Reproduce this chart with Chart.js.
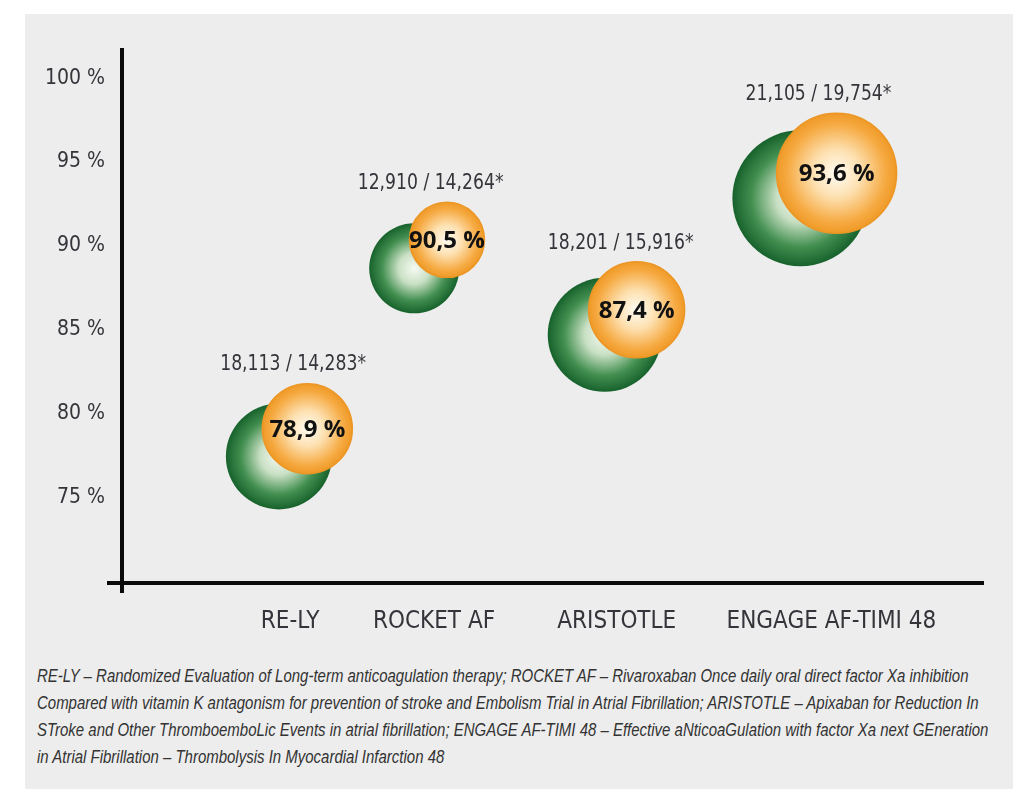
<!DOCTYPE html>
<html>
<head>
<meta charset="utf-8">
<script src="https://cdn.jsdelivr.net/npm/chart.js@4"></script>
<style>
    body { margin: 0; background: #ffffff; }
    #panel {
        position: absolute; left: 25px; top: 14px;
        width: 988px; height: 775px; background: #ededed;
    }
    #chart { position: absolute; left: 0; top: 0; }
    #note {
        position: absolute; left: 12px; top: 649px;
        font-family: "Liberation Sans", sans-serif;
        font-style: italic; font-size: 18px; line-height: 27px;
        color: #333; white-space: nowrap;
        transform: scaleX(0.832); transform-origin: 0 0;
    }
</style>
</head>
<body>
<div id="panel">
    <canvas id="chart" width="988" height="640"></canvas>
    <div id="note">
        RE-LY – Randomized Evaluation of Long-term anticoagulation therapy; ROCKET AF – Rivaroxaban Once daily oral direct factor Xa inhibition<br>
        Compared with vitamin K antagonism for prevention of stroke and Embolism Trial in Atrial Fibrillation; ARISTOTLE – Apixaban for Reduction In<br>
        STroke and Other ThromboemboLic Events in atrial fibrillation; ENGAGE AF-TIMI 48 – Effective aNticoaGulation with factor Xa next GEneration<br>
        in Atrial Fibrillation – Thrombolysis In Myocardial Infarction 48
    </div>
</div>
<script>
// trials and where their names sit on the x axis
const categories = ['RE-LY', 'ROCKET AF', 'ARISTOTLE', 'ENGAGE AF-TIMI 48'];
const categoryX = [19.5, 36.2, 57.4, 82.3];

// green bubbles (back)
const greenX = [18.2, 33.9, 56.0, 78.7];
const greenY = [77.45, 88.66, 84.7, 92.84];
const greenR = [53, 45, 57, 68];

// orange bubbles (front)
const orangeX = [21.5, 37.7, 59.7, 82.9];
const orangeY = [79.1, 90.36, 86.19, 94.33];
const orangeR = [45, 37.5, 48, 60];

const patientLabels = ['18,113 / 14,283*', '12,910 / 14,264*', '18,201 / 15,916*', '21,105 / 19,754*'];
const percentLabels = ['78,9 %', '90,5 %', '87,4 %', '93,6 %'];
const yTicks = [75, 80, 85, 90, 95, 100];

const greenStops = [[0, '#f6faf3'], [0.35, '#c9e0c4'], [0.72, '#428f50'], [1, '#17622c']];
const orangeStops = [[0, '#fffcf4'], [0.4, '#fde0b0'], [0.82, '#f6aa42'], [1, '#ef9a27']];

const narrowFamily = '"DejaVu Sans Condensed", "Liberation Sans", sans-serif';

function radialFill(stops) {
    return function (ctx) {
        const chart = ctx.chart;
        if (!chart.chartArea || ctx.type !== 'data') {
            return stops[stops.length - 1][1];
        }
        const raw = ctx.raw;
        const x = chart.scales.x.getPixelForValue(raw.x);
        const y = chart.scales.y.getPixelForValue(raw.y);
        const g = chart.ctx.createRadialGradient(x, y, 0, x, y, raw.r);
        stops.forEach(s => g.addColorStop(s[0], s[1]));
        return g;
    };
}

// thick black axes, crossing a little past each other
const axesPlugin = {
    id: 'axesLines',
    beforeDatasetsDraw(chart) {
        const a = chart.chartArea;
        const c = chart.ctx;
        c.save();
        c.strokeStyle = '#0a0a0a';
        c.lineWidth = 4;
        c.beginPath();
        c.moveTo(a.left, a.top);
        c.lineTo(a.left, a.bottom + 10);
        c.moveTo(a.left - 15, a.bottom);
        c.lineTo(a.right, a.bottom);
        c.stroke();
        c.restore();
    }
};

const labelPlugin = {
    id: 'bubbleLabels',
    afterDatasetsDraw(chart) {
        const c = chart.ctx;
        const green = chart.getDatasetMeta(0).data;
        const orange = chart.getDatasetMeta(1).data;
        c.save();
        c.textAlign = 'center';
        c.textBaseline = 'middle';
        for (let i = 0; i < categories.length; i++) {
            const g = green[i];
            const o = orange[i];
            // patient counts, squeezed a bit to look like the narrow print font
            c.save();
            c.translate((g.x + o.x) / 2, o.y - orangeR[i] - 19);
            c.scale(0.87, 1);
            c.fillStyle = '#34343a';
            c.font = '22px ' + narrowFamily;
            c.fillText(patientLabels[i], 0, 0);
            c.restore();
            c.fillStyle = '#111';
            c.font = 'bold 24px "Open Sans", sans-serif';
            c.fillText(percentLabels[i], o.x, o.y + 1);
        }
        c.restore();
    }
};

new Chart(document.getElementById('chart'), {
    type: 'bubble',
    data: {
        datasets: [
            {
                label: 'green',
                data: greenX.map((x, i) => ({ x: x, y: greenY[i], r: greenR[i] })),
                backgroundColor: radialFill(greenStops),
                borderWidth: 0,
                order: 2
            },
            {
                label: 'orange',
                data: orangeX.map((x, i) => ({ x: x, y: orangeY[i], r: orangeR[i] })),
                backgroundColor: radialFill(orangeStops),
                borderColor: '#ec9625',
                borderWidth: 1.5,
                order: 1
            }
        ]
    },
    options: {
        responsive: false,
        animation: false,
        layout: { autoPadding: false, padding: { top: 34, right: 29, left: 0, bottom: 0 } },
        plugins: {
            legend: { display: false },
            tooltip: { enabled: false }
        },
        scales: {
            x: {
                type: 'linear',
                min: 0,
                max: 100,
                grid: { display: false },
                border: { display: false },
                afterBuildTicks: scale => {
                    scale.ticks = categoryX.map(v => ({ value: v }));
                },
                afterFit: scale => { scale.height = 71; },
                ticks: {
                    autoSkip: false,
                    maxRotation: 0,
                    padding: 16,
                    color: '#34343a',
                    font: { family: narrowFamily, size: 24 },
                    callback: (v, i) => categories[i]
                }
            },
            y: {
                min: 69.9,
                max: 101.8,
                grid: { display: false },
                border: { display: false },
                afterBuildTicks: scale => {
                    scale.ticks = yTicks.map(v => ({ value: v }));
                },
                afterFit: scale => { scale.width = 97; },
                ticks: {
                    padding: 9,
                    color: '#34343a',
                    font: { family: narrowFamily, size: 21 },
                    callback: v => v + ' %'
                }
            }
        }
    },
    plugins: [axesPlugin, labelPlugin]
});
</script>
</body>
</html>
